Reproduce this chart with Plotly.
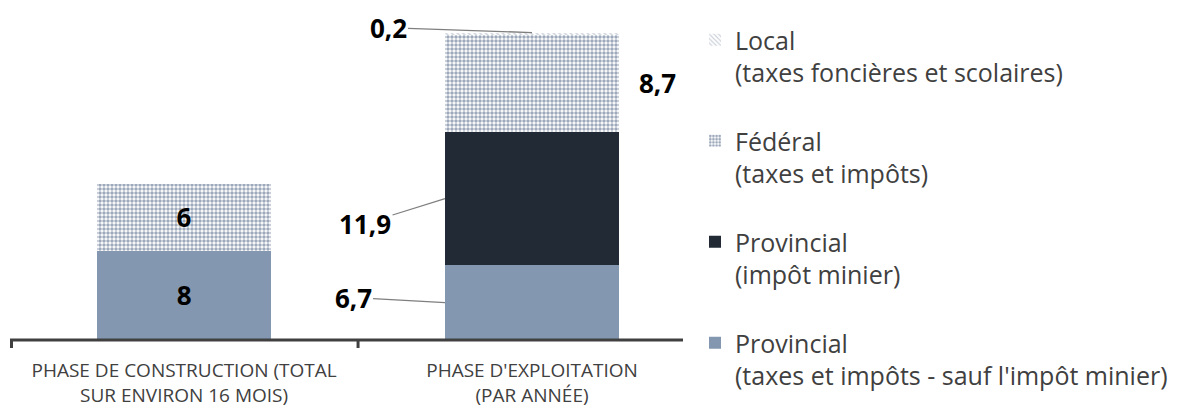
import plotly.graph_objects as go

categories = ["PHASE DE CONSTRUCTION (TOTAL<br>SUR ENVIRON 16 MOIS)", "PHASE D'EXPLOITATION<br>(PAR ANNÉE)"]
prov_taxes = [8, 6.7]
prov_minier = [0, 11.9]
federal = [6, 8.7]
local = [0, 0.2]

legend_names = [
    "Provincial<br>(taxes et impôts - sauf l'impôt minier)",
    "Provincial<br>(impôt minier)",
    "Fédéral<br>(taxes et impôts)",
    "Local<br>(taxes foncières et scolaires)",
]
legend_ranks = [4, 3, 2, 1]

C_LIGHT = "#8497B0"
C_DARK = "#222A35"
C_TEXT = "#404040"
FONT = "Open Sans"

# the page body adds an 8px offset; layout is sized so the figure fills the window
W, H = 1177, 404
L, T = 2, 19
PW, PH = 696, 313

fig = go.Figure()
lab_font = dict(family=FONT, size=26, color="black")

fig.add_bar(x=categories, y=prov_taxes, name=legend_names[0], legendgroup="a", legendrank=legend_ranks[0],
            marker=dict(color=C_LIGHT, line=dict(width=0)),
            text=[str(prov_taxes[0]), ""], textposition="inside", insidetextanchor="middle",
            textfont=lab_font, texttemplate="<b>%{text}</b>")
fig.add_bar(x=categories, y=prov_minier, name=legend_names[1], legendgroup="b", legendrank=legend_ranks[1],
            marker=dict(color=C_DARK, line=dict(width=0)))
fig.add_bar(x=categories, y=federal, name=legend_names[2], legendgroup="c", legendrank=legend_ranks[2],
            marker=dict(color="white", line=dict(width=0),
                        pattern=dict(shape=".", fgcolor="#3C5176", bgcolor="white", size=4, solidity=0.6, fillmode="overlay")),
            text=[str(federal[0]), ""], textposition="inside", insidetextanchor="middle",
            textfont=lab_font, texttemplate="<b>%{text}</b>")
fig.add_bar(x=categories, y=local, name=legend_names[3], legendgroup="d", legendrank=legend_ranks[3],
            marker=dict(color="white", line=dict(width=0),
                        pattern=dict(shape="\\", fgcolor="#8E9AAD", bgcolor="white", size=4, solidity=0.35, fillmode="overlay")))

def fmt(v):
    return f"<b>{v}</b>".replace(".", ",")

# cumulative positions for bar 2 labels
i = 1
c0 = prov_taxes[i]
c1 = c0 + prov_minier[i]
c2 = c1 + federal[i]
c3 = c2 + local[i]
half = 0.25
leader = dict(showarrow=True, arrowhead=0, arrowwidth=1.3, arrowcolor="#7F7F7F", font=lab_font)
fig.add_annotation(x=i - half, y=c0 / 2, text=fmt(prov_taxes[i]), ax=-92, ay=-5, **leader)
fig.add_annotation(x=i - half, y=(c0 + c1) / 2, text=fmt(prov_minier[i]), ax=-80, ay=25, **leader)
fig.add_annotation(x=i, y=c3, text=fmt(local[i]), ax=-144, ay=-5, **leader)
fig.add_annotation(x=i, y=(c1 + c2) / 2, text=fmt(federal[i]), showarrow=False, xshift=125, font=lab_font)

# axis line and ticks at category boundaries
fig.add_shape(type="line", xref="paper", yref="paper", x0=0, x1=(683 - 10) / PW, y0=0, y1=0,
              line=dict(color=C_TEXT, width=3))
for xb in [-0.5, 0.5]:
    fig.add_shape(type="line", xref="x", yref="paper", ysizemode="pixel", yanchor=0,
                  x0=xb + (0.004 if xb < 0 else 0), x1=xb + (0.004 if xb < 0 else 0), y0=0, y1=-8,
                  line=dict(color=C_TEXT, width=3))

fig.update_layout(
    width=W, height=H,
    barmode="stack", bargap=0.5,
    margin=dict(l=L, r=W - L - PW, t=T, b=H - T - PH, autoexpand=False),
    plot_bgcolor="white", paper_bgcolor="white",
    font=dict(family=FONT, color=C_TEXT),
    separators=", ",
    showlegend=True,
    legend=dict(x=(687 - L) / PW, xanchor="left", y=(T + PH - 9) / PH, yanchor="top",
                traceorder="grouped", tracegroupgap=33, valign="top",
                font=dict(family=FONT, size=25, color=C_TEXT),
                itemwidth=30, bgcolor="rgba(0,0,0,0)", maxheight=H),
)
fig.update_xaxes(showline=False, showgrid=False, ticks="", tickfont=dict(family=FONT, size=19, color=C_TEXT),
                 ticklabelstandoff=17, automargin=False)
fig.update_yaxes(visible=False, range=[0, 28])

fig.write_html("out.html")
